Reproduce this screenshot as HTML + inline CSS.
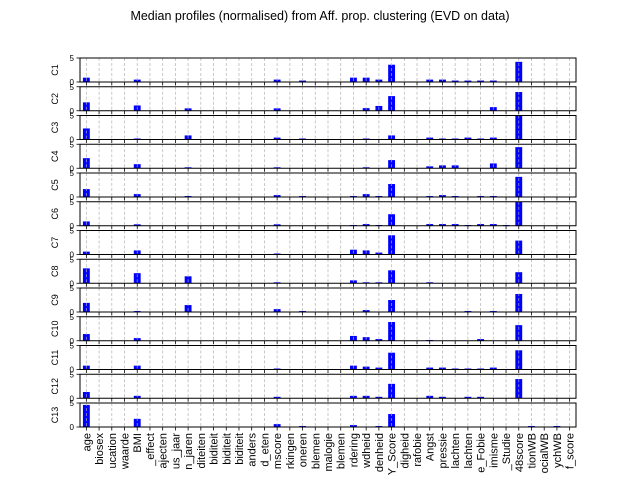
<!DOCTYPE html>
<html><head><meta charset="utf-8"><style>
html,body{margin:0;padding:0;background:#fff;width:640px;height:480px;overflow:hidden}
svg{display:block;font-family:"Liberation Sans","DejaVu Sans",sans-serif}
</style></head><body>
<svg id="chart" width="640" height="480" viewBox="0 0 640 480" xmlns="http://www.w3.org/2000/svg">
<rect x="0" y="0" width="640" height="480" fill="#fff"/>
<text x="320" y="20" text-anchor="middle" font-size="12.5">Median profiles (normalised) from Aff. prop. clustering (EVD on data)</text>
<g id="panels"></g>
</svg>
<script>
const categories = ["age","biosex","ucation","waarde","BMI","_effect","ajecten","us_jaar","n_jaren","diteiten","biditeit","biditeit","biditeit","anders","d_eten","mscore","rkingen","oneren","blemen","malogie","blemen","rdering","wdheid","denheid","Y_Score","digheid","rafobie","Angst","pressie","lachten","lachten","e_Fobie","imisme","_Studie","48score","tionWB","ocialWB","ychWB","f_score"];
const clusterNames = ["C1","C2","C3","C4","C5","C6","C7","C8","C9","C10","C11","C12","C13"];
const yTicks = [0,5];
const c1 = [0.9,0,0,0,0.5,0,0,0,0,0, 0,0,0,0,0,0.5,0,0.3,0,0, 0,0.9,0.9,0.5,3.6,0,0,0.5,0.5,0.3, 0.3,0.3,0.3,0,4.2,0,0,0,0];
const c2 = [1.75,0,0,0,1.1,0,0,0,0.5,0, 0,0,0,0,0,0.5,0,0,0,0, 0,0,0.55,1.0,3.05,0,0,0,0,0, 0,0,0.75,0,3.9,0,0,0,0];
const c3 = [2.3,0,0,0,0.2,0,0,0,0.85,0, 0,0,0,0,0,0.4,0,0.2,0,0, 0,0,0.2,0,0.85,0,0,0.4,0.2,0.2, 0.4,0.2,0.4,0,5.2,0,0,0,0];
const c4 = [2.1,0,0,0,0.85,0,0,0,0.2,0, 0,0,0,0,0,0.2,0,0,0,0, 0,0,0.2,0,1.7,0,0,0.4,0.6,0.6, 0,0,1.0,0,4.4,0,0,0,0];
const c5 = [1.65,0,0,0,0.6,0,0,0,0.2,0, 0,0,0,0,0,0.4,0,0.2,0,0, 0,0.2,0.6,0.2,2.7,0,0,0.2,0.4,0.2, 0,0.2,0.2,0,4.2,0,0,0,0];
const c6 = [0.9,0,0,0,0.3,0,0,0,0,0, 0,0,0,0,0,0.3,0,0,0,0, 0,0.15,0.35,0.15,2.4,0,0,0.35,0.35,0.35, 0.15,0.35,0.35,0.15,5.2,0,0,0,0];
const c7 = [0.6,0,0,0,0.85,0,0,0,0,0, 0,0,0,0,0,0.2,0,0,0,0, 0,1.0,0.85,0.4,4.0,0,0,0,0,0, 0,0,0,0,2.9,0,0,0,0];
const c8 = [3.1,0,0,0,2.1,0,0,0,1.45,0, 0,0,0,0,0,0.2,0,0,0,0, 0,0.6,0.2,0.2,2.7,0,0,0.2,0,0, 0,0,0,0,2.3,0,0,0,0];
const c9 = [1.9,0,0,0,0.2,0,0,0,1.45,0, 0,0,0,0,0,0.6,0,0.2,0,0, 0,0,0.4,0,2.5,0,0,0,0,0, 0.2,0,0.2,0,3.75,0,0,0,0];
const c10 = [1.4,0,0,0,0.55,0,0,0,0,0, 0,0,0,0,0,0,0,0,0,0, 0,1.0,0.75,0.35,3.9,0,0,0.15,0,0, 0,0.35,0,0,3.25,0,0,0,0];
const c11 = [0.8,0,0,0,0.8,0,0,0,0,0, 0,0,0,0,0,0.2,0,0,0,0, 0,0.8,0.6,0.4,3.5,0,0,0.4,0.4,0.2, 0.2,0.2,0.4,0,4.0,0,0,0,0];
const c12 = [1.3,0,0,0,0.5,0,0,0,0,0, 0,0,0,0,0,0.3,0,0,0,0, 0,0.5,0.5,0.3,3.0,0,0,0.5,0.3,0, 0.3,0.3,0,0,4.0,0,0,0,0];
const c13 = [4.6,0,0,0,1.7,0,0,0,0,0, 0,0,0,0,0,0.6,0,0.2,0,0, 0,0.4,0,0.2,2.7,0,0,0,0,0, 0,0,0,0,0,0.2,0,0.2,0];
const series = [c1,c2,c3,c4,c5,c6,c7,c8,c9,c10,c11,c12,c13];

const NS = "http://www.w3.org/2000/svg";
const L = 80, R = 576, PT = 58, PH = 24, STEP = 28.75, YMAX = 5;
const n = categories.length;
const bw = (R - L) / n;
function xs(i){ return L + (i + 0.5) * bw; }
function ys(p, v){ return PT + p*STEP + PH - (v / YMAX) * PH; }
function mk(tag, attrs, parent){
  const e = document.createElementNS(NS, tag);
  for (const k in attrs) e.setAttribute(k, attrs[k]);
  parent.appendChild(e);
  return e;
}
const root = document.getElementById('panels');
const defs = mk('defs', {}, root);
series.forEach((vals, p) => {
  const top = PT + p*STEP;
  const cp = mk('clipPath', {id: 'clip' + p}, defs);
  mk('rect', {x: L, y: top, width: R - L, height: PH}, cp);
  const g = mk('g', {}, root);
  
  
  mk('rect', {x: L, y: top, width: R - L, height: PH, fill: '#fff'}, g);
  const bars = mk('g', {'clip-path': 'url(#clip' + p + ')'}, g);
  vals.forEach((v, i) => {
    if (v <= 0) return;
    const y = ys(p, v);
    const b = mk('rect', {x: xs(i) - bw*0.27, y: y, width: bw*0.54, height: top + PH - y, fill: '#0000ff'}, bars);
    
    
  });
  for (let i = 0; i < n; i++) {
    mk('line', {x1: xs(i), x2: xs(i), y1: top, y2: top + PH, stroke: '#b0b0b0', 'stroke-width': 0.8, 'stroke-dasharray': '3,2', opacity: 0.85}, g);
  }
  mk('rect', {x: L, y: top, width: R - L, height: PH, fill: 'none', stroke: '#000', 'stroke-width': 1}, g);
  for (let i = 0; i < n; i++) {
    mk('line', {x1: xs(i), x2: xs(i), y1: top + PH, y2: top + PH + 3.5, stroke: '#000', 'stroke-width': 0.8}, g);
  }
  yTicks.forEach(t => {
    const y = ys(p, t);
    mk('line', {x1: L - 3.5, x2: L, y1: y, y2: y, stroke: '#000', 'stroke-width': 0.8}, g);
    const tl = mk('text', {x: L - 6, y: y + 3, 'text-anchor': 'end', 'font-size': 8}, g);
    tl.textContent = t;
    
    
  });
  const cy = top + PH/2;
  const lab = mk('text', {x: 58, y: cy, 'text-anchor': 'middle', 'font-size': 9, transform: 'rotate(-90 58 ' + cy + ')'}, g);
  lab.textContent = clusterNames[p];
  
  
});
const lastBottom = PT + 12*STEP + PH;
categories.forEach((c, i) => {
  const x = xs(i) + 4;
  const y = lastBottom + 6;
  const t = mk('text', {x: x, y: y, 'text-anchor': 'end', 'font-size': 11, transform: 'rotate(-90 ' + x + ' ' + y + ')'}, root);
  t.textContent = c;
  
  
});
</script>
</body></html>
